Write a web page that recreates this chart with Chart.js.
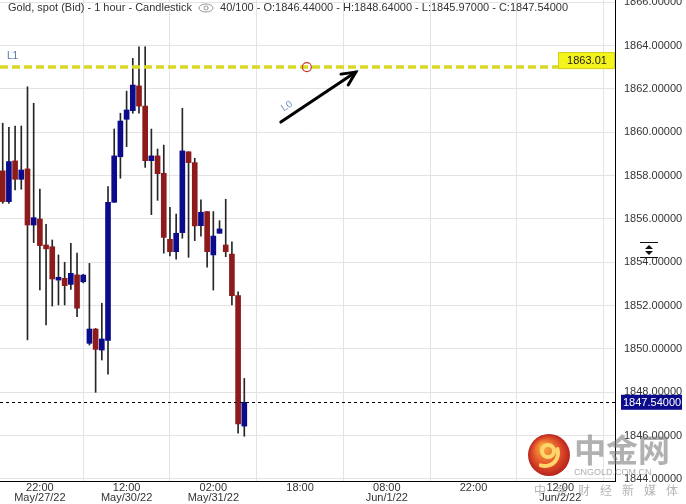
<!DOCTYPE html>
<html><head><meta charset="utf-8">
<script src="https://cdn.jsdelivr.net/npm/chart.js@4.4.0/dist/chart.umd.min.js"></script>
<style>html,body{margin:0;padding:0;background:#fff;overflow:hidden}canvas{display:block}</style>
</head><body>
<canvas id="c" width="686" height="504"></canvas>
<script>
// ---- data (hourly candles) ----
const opens  = [1858.22,1856.80,1858.68,1857.83,1858.31,1855.72,1856.00,1854.80,1854.72,1853.18,1853.26,1852.98,1853.42,1853.10,1850.26,1850.92,1849.95,1850.40,1856.77,1858.87,1860.60,1861.00,1862.14,1861.21,1858.69,1858.91,1858.11,1855.06,1854.49,1855.37,1859.10,1858.60,1855.69,1856.34,1854.34,1855.34,1854.80,1854.38,1852.46,1846.44];
const highs  = [1860.42,1860.23,1860.29,1860.29,1862.10,1861.34,1857.38,1855.75,1855.03,1854.34,1854.00,1854.88,1854.42,1853.45,1853.95,1850.95,1852.11,1857.49,1860.15,1860.88,1861.90,1863.41,1863.95,1863.95,1860.15,1859.23,1859.41,1856.54,1856.23,1861.11,1859.10,1858.80,1856.88,1856.34,1856.34,1855.92,1856.91,1854.95,1852.64,1848.64];
const lows   = [1856.72,1856.72,1857.34,1857.37,1850.42,1854.91,1852.72,1851.11,1851.98,1852.03,1852.03,1852.75,1851.49,1853.05,1850.18,1848.00,1849.49,1848.84,1856.77,1857.88,1859.34,1860.88,1860.88,1858.38,1856.20,1856.86,1854.42,1854.29,1854.14,1855.11,1854.23,1855.00,1855.21,1853.77,1852.72,1855.34,1854.26,1852.03,1846.11,1845.97];
const closes = [1856.80,1858.65,1857.83,1858.26,1855.72,1856.06,1854.77,1854.62,1853.23,1853.31,1852.92,1853.49,1851.88,1853.41,1850.92,1849.98,1850.46,1856.77,1858.91,1860.52,1861.03,1862.18,1861.21,1858.69,1858.91,1858.09,1855.15,1854.49,1855.34,1859.14,1858.60,1855.68,1856.31,1854.49,1855.21,1855.54,1854.49,1852.46,1846.54,1847.54];

const xTickIndex = [6, 20, 34, 48, 62, 76, 90];
const xTickTime  = ['22:00','12:00','02:00','18:00','08:00','22:00','12:00'];
const xTickDate  = ['May/27/22','May/30/22','May/31/22','','Jun/1/22','','Jun/2/22'];
const yTicks     = [1844,1846,1848,1850,1852,1854,1856,1858,1860,1862,1864,1866];

const levelL1   = 1863.01;
const lastPrice = 1847.54;
const headerTitle = 'Gold, spot (Bid) - 1 hour - Candlestick';
const headerStats = '40/100 - O:1846.44000 - H:1848.64000 - L:1845.97000 - C:1847.54000';
// trend arrow "L0" in (bar index, price)
const arrowFrom = [44.9, 1860.47];
const arrowTo   = [57.0, 1862.78];
const circleAt  = [49.1, 1863.01];

// ---- chart ----
const FONT = 'Liberation Sans, Arial, sans-serif';
const BLUE = '#0b0b8c', RED = '#8e1b1b';
const idx = opens.map((_, i) => i);

const overlay = {
  id: 'overlay',
  afterDatasetsDraw(chart) {
    const { ctx, chartArea: a, scales: { x, y } } = chart;
    ctx.save();
    // header
    ctx.font = '11px ' + FONT; ctx.fillStyle = '#333'; ctx.textBaseline = 'middle'; ctx.textAlign = 'left';
    ctx.fillText(headerTitle, 8, 8);
    const w1 = ctx.measureText(headerTitle).width;
    const ex = 8 + w1 + 14;
    ctx.strokeStyle = '#999'; ctx.lineWidth = 1;
    ctx.beginPath(); ctx.ellipse(ex, 8, 7, 4, 0, 0, Math.PI * 2); ctx.stroke();
    ctx.beginPath(); ctx.arc(ex, 8, 2, 0, Math.PI * 2); ctx.stroke();
    ctx.fillText(headerStats, ex + 14, 8);

    // L1 level line
    const yL1 = y.getPixelForValue(levelL1);
    ctx.strokeStyle = '#d8d826'; ctx.lineWidth = 3.5; ctx.setLineDash([8, 4]);
    ctx.beginPath(); ctx.moveTo(a.left, yL1); ctx.lineTo(a.right - 56, yL1); ctx.stroke();
    ctx.setLineDash([]);
    ctx.fillStyle = '#4f76b0'; ctx.font = '10px ' + FONT;
    ctx.fillText('L1', 7, yL1 - 11);
    // L1 value box (sits slightly above the line)
    const by = yL1 - 6.5;
    ctx.fillStyle = '#f4f41c';
    ctx.fillRect(a.right - 57, by - 8.5, 57, 17);
    ctx.strokeStyle = '#d0d020'; ctx.lineWidth = 1;
    ctx.strokeRect(a.right - 56.5, by - 8, 56, 16);
    ctx.fillStyle = '#222'; ctx.font = '11px ' + FONT; ctx.textAlign = 'center';
    ctx.fillText(levelL1.toFixed(2), a.right - 28, by + 0.5);

    // circle on level
    ctx.strokeStyle = '#c8372f'; ctx.lineWidth = 1.2;
    ctx.beginPath(); ctx.arc(x.getPixelForValue(circleAt[0]), y.getPixelForValue(circleAt[1]), 4.5, 0, Math.PI * 2); ctx.stroke();

    // arrow L0
    const x0 = x.getPixelForValue(arrowFrom[0]), y0 = y.getPixelForValue(arrowFrom[1]);
    const x1 = x.getPixelForValue(arrowTo[0]), y1 = y.getPixelForValue(arrowTo[1]);
    const ang = Math.atan2(y1 - y0, x1 - x0);
    ctx.strokeStyle = '#000'; ctx.lineWidth = 3; ctx.lineCap = 'round';
    ctx.beginPath(); ctx.moveTo(x0, y0); ctx.lineTo(x1, y1); ctx.stroke();
    ctx.beginPath();
    ctx.moveTo(x1 - 15 * Math.cos(ang - 0.45), y1 - 15 * Math.sin(ang - 0.45));
    ctx.lineTo(x1, y1);
    ctx.lineTo(x1 - 15 * Math.cos(ang + 0.45), y1 - 15 * Math.sin(ang + 0.45));
    ctx.stroke();
    ctx.save();
    ctx.translate(x0 + 6, y0 - 16); ctx.rotate(ang);
    ctx.fillStyle = '#6d8fc0'; ctx.font = '10px ' + FONT; ctx.textAlign = 'center';
    ctx.fillText('L0', 0, 0);
    ctx.restore();

    // last price line
    const yp = y.getPixelForValue(lastPrice);
    ctx.strokeStyle = '#000'; ctx.lineWidth = 1; ctx.setLineDash([3, 3]); ctx.lineCap = 'butt';
    ctx.beginPath(); ctx.moveTo(a.left, Math.round(yp) + 0.5); ctx.lineTo(a.right, Math.round(yp) + 0.5); ctx.stroke();
    ctx.setLineDash([]);
    ctx.restore();
  },
  afterDraw(chart) {
    const { ctx, chartArea: a, scales: { y } } = chart;
    ctx.save();
    // last price box
    const yp = y.getPixelForValue(lastPrice);
    ctx.fillStyle = '#0b0b8c';
    ctx.fillRect(a.right + 6, yp - 7.5, 61, 15);
    ctx.fillStyle = '#fff'; ctx.font = '11px ' + FONT; ctx.textAlign = 'left'; ctx.textBaseline = 'middle';
    ctx.fillText(lastPrice.toFixed(5), a.right + 8, yp + 0.5);

    // scale handle icon
    const cx = a.right + 34, cy = 250;
    ctx.fillStyle = '#fff'; ctx.fillRect(cx - 10, cy - 8, 20, 16);
    ctx.strokeStyle = '#111'; ctx.lineWidth = 1;
    ctx.beginPath(); ctx.moveTo(cx - 9, cy - 7.5); ctx.lineTo(cx + 9, cy - 7.5);
    ctx.moveTo(cx - 9, cy + 7.5); ctx.lineTo(cx + 9, cy + 7.5); ctx.stroke();
    ctx.fillStyle = '#111';
    ctx.beginPath(); ctx.moveTo(cx - 4, cy - 1); ctx.lineTo(cx + 4, cy - 1); ctx.lineTo(cx, cy - 5); ctx.fill();
    ctx.beginPath(); ctx.moveTo(cx - 4, cy + 1); ctx.lineTo(cx + 4, cy + 1); ctx.lineTo(cx, cy + 5); ctx.fill();

    // watermark
    const lx = 549, ly = 455, r = 21;
    const g = ctx.createRadialGradient(lx - 6, ly - 8, 3, lx, ly, r);
    g.addColorStop(0, '#f6a33a'); g.addColorStop(0.6, '#e0502a'); g.addColorStop(1, '#b8231e');
    ctx.fillStyle = g; ctx.beginPath(); ctx.arc(lx, ly, r, 0, Math.PI * 2); ctx.fill();
    ctx.strokeStyle = '#ffd66a'; ctx.lineWidth = 4; ctx.lineCap = 'round';
    ctx.beginPath(); ctx.arc(lx - 1, ly - 4, 6, 0, Math.PI * 2); ctx.stroke();
    ctx.beginPath(); ctx.arc(lx - 4, ly - 2, 13, -0.3, 1.9); ctx.stroke();
    ctx.fillStyle = 'rgba(125,125,125,0.6)';
    ctx.font = 'bold 32px "Noto Sans CJK SC"'; ctx.textAlign = 'left'; ctx.textBaseline = 'middle';
    ctx.fillText('中金网', 574, 450);
    ctx.font = '9px ' + FONT; ctx.fillStyle = 'rgba(140,140,140,0.7)';
    ctx.fillText('CNGOLD.COM.CN', 574, 473);
    ctx.font = '12px "Noto Sans CJK SC"'; ctx.textAlign = 'center'; ctx.fillStyle = 'rgba(150,150,150,0.7)';
    '中金财经新媒体'.split('').forEach((ch, k) => ctx.fillText(ch, 540 + 22 * k, 490));
    ctx.restore();
  }
};

new Chart(document.getElementById('c'), {
  type: 'bar',
  data: {
    datasets: [
      { label: 'wick', data: idx.map(i => ({ x: i, y: [lows[i], highs[i]] })),
        backgroundColor: '#262626', barThickness: 1, grouped: false, order: 2 },
      { label: 'body', data: idx.map(i => ({ x: i, y: [opens[i], closes[i]] })),
        backgroundColor: idx.map(i => closes[i] >= opens[i] ? BLUE : RED),
        barThickness: 5, grouped: false, minBarLength: 2, order: 1 }
    ]
  },
  options: {
    responsive: false, animation: false, devicePixelRatio: 1,
    layout: { padding: 0 },
    plugins: { legend: { display: false }, tooltip: { enabled: false } },
    scales: {
      x: {
        type: 'linear', position: 'bottom', min: -0.436, max: 98.84, offset: false,
        afterBuildTicks: s => { s.ticks = xTickIndex.map(v => ({ value: v })); },
        afterFit: s => { s.height = 23; s.paddingLeft = 0; s.paddingRight = 0; },
        grid: { color: '#e3e3e3', drawTicks: false },
        border: { color: '#000', width: 1 },
        ticks: {
          autoSkip: false, maxRotation: 0, padding: 2, color: '#333',
          font: { family: FONT, size: 11, lineHeight: 0.9 },
          callback: v => { const k = xTickIndex.indexOf(v); return xTickDate[k] ? [xTickTime[k], xTickDate[k]] : xTickTime[k]; }
        }
      },
      y: {
        type: 'linear', position: 'right', min: 1843.906, max: 1866.106,
        afterBuildTicks: s => { s.ticks = yTicks.map(v => ({ value: v })); },
        afterFit: s => { s.width = 71; s.paddingTop = 0; s.paddingBottom = 0; },
        grid: { color: '#e3e3e3', drawTicks: false },
        border: { color: '#000', width: 1 },
        ticks: { padding: 9, color: '#333', font: { family: FONT, size: 11 }, callback: v => v.toFixed(5) }
      }
    }
  },
  plugins: [overlay]
});
</script>
</body></html>
